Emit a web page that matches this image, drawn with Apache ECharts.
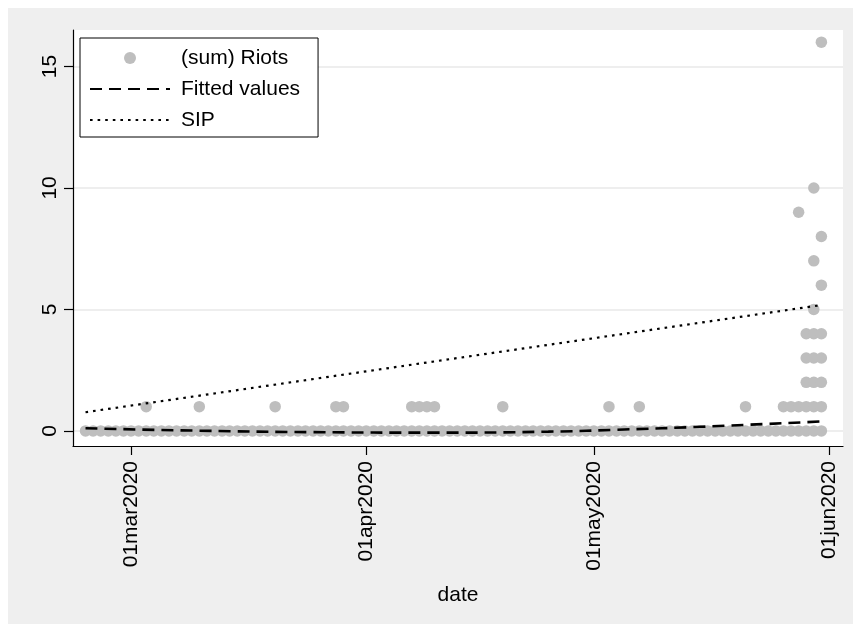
<!DOCTYPE html>
<html>
<head>
<meta charset="utf-8">
<script src="https://cdn.jsdelivr.net/npm/echarts@6/dist/echarts.min.js"></script>
<style>
  html, body { margin: 0; padding: 0; background: #ffffff; width: 853px; height: 624px; overflow: hidden; }
  #chart { position: absolute; left: 8px; top: 8px; width: 845px; height: 616px; }
</style>
</head>
<body>
<div id="chart"></div>
<script>
// Days on which at least one unit reported zero riots
const zeroDays = [
  '2020-02-24','2020-02-25','2020-02-26','2020-02-27','2020-02-28','2020-02-29',
  '2020-03-01','2020-03-02','2020-03-03','2020-03-04','2020-03-05','2020-03-06','2020-03-07',
  '2020-03-08','2020-03-09','2020-03-10','2020-03-11','2020-03-12','2020-03-13','2020-03-14',
  '2020-03-15','2020-03-16','2020-03-17','2020-03-18','2020-03-19','2020-03-20','2020-03-21',
  '2020-03-22','2020-03-23','2020-03-24','2020-03-25','2020-03-26','2020-03-27','2020-03-28',
  '2020-03-29','2020-03-30','2020-03-31',
  '2020-04-01','2020-04-02','2020-04-03','2020-04-04','2020-04-05','2020-04-06','2020-04-07',
  '2020-04-08','2020-04-09','2020-04-10','2020-04-11','2020-04-12','2020-04-13','2020-04-14',
  '2020-04-15','2020-04-16','2020-04-17','2020-04-18','2020-04-19','2020-04-20','2020-04-21',
  '2020-04-22','2020-04-23','2020-04-24','2020-04-25','2020-04-26','2020-04-27','2020-04-28',
  '2020-04-29','2020-04-30',
  '2020-05-01','2020-05-02','2020-05-03','2020-05-04','2020-05-05','2020-05-06','2020-05-07',
  '2020-05-08','2020-05-09','2020-05-10','2020-05-11','2020-05-12','2020-05-13','2020-05-14',
  '2020-05-15','2020-05-16','2020-05-17','2020-05-18','2020-05-19','2020-05-20','2020-05-21',
  '2020-05-22','2020-05-23','2020-05-24','2020-05-25','2020-05-26','2020-05-27','2020-05-28',
  '2020-05-29','2020-05-30','2020-05-31'
];

// Non-zero (sum) riot observations: date and count
const eventDays = [
  '2020-03-03','2020-03-10','2020-03-20','2020-03-28','2020-03-29',
  '2020-04-07','2020-04-08','2020-04-09','2020-04-10','2020-04-19',
  '2020-05-03','2020-05-07','2020-05-21',
  '2020-05-26','2020-05-27',
  '2020-05-28','2020-05-28',
  '2020-05-29','2020-05-29','2020-05-29','2020-05-29',
  '2020-05-30','2020-05-30','2020-05-30','2020-05-30','2020-05-30','2020-05-30','2020-05-30',
  '2020-05-31','2020-05-31','2020-05-31','2020-05-31','2020-05-31','2020-05-31','2020-05-31'
];
const eventCounts = [
  1, 1, 1, 1, 1,
  1, 1, 1, 1, 1,
  1, 1, 1,
  1, 1,
  1, 9,
  1, 2, 3, 4,
  1, 2, 3, 4, 5, 7, 10,
  1, 2, 3, 4, 6, 8, 16
];

// Fitted values curve
const fitDays = ['2020-02-24','2020-03-10','2020-03-25','2020-04-10','2020-04-25','2020-05-05','2020-05-15','2020-05-31'];
const fitValues = [0.11, 0.01, -0.05, -0.07, -0.03, 0.06, 0.17, 0.39];

// SIP line
const sipDays = ['2020-02-24','2020-05-31'];
const sipValues = [0.77, 5.18];

// Axis ticks
const xTickDays = ['2020-03-01','2020-04-01','2020-05-01','2020-06-01'];
const yTicks = [0, 5, 10, 15];

const DAY = 86400000;
const MONTHS = ['jan','feb','mar','apr','may','jun','jul','aug','sep','oct','nov','dec'];
const toTime = s => { const [y, m, d] = s.split('-').map(Number); return Date.UTC(y, m - 1, d); };
const fmtDate = v => {
  const d = new Date(v);
  return String(d.getUTCDate()).padStart(2, '0') + MONTHS[d.getUTCMonth()] + d.getUTCFullYear();
};

const FONT = "'Liberation Sans', Arial, sans-serif";
const riotPoints = zeroDays.map(s => [toTime(s), 0])
  .concat(eventDays.map((s, i) => [toTime(s), eventCounts[i]]));
const fitPoints = fitDays.map((s, i) => [toTime(s), fitValues[i]]);
const sipPoints = sipDays.map((s, i) => [toTime(s), sipValues[i]]);
const xTicks = xTickDays.map(toTime);

// Line keys in the legend show only the stroke, no marker
const hiddenMarker = { opacity: 0, color: 'rgba(0,0,0,0)' };

const chart = echarts.init(document.getElementById('chart'), null, { renderer: 'canvas' });
chart.setOption({
  animation: false,
  backgroundColor: '#efefef',
  textStyle: { fontFamily: FONT },
  grid: {
    left: 65, right: 10, top: 22, bottom: 178,
    show: true, backgroundColor: '#ffffff', borderWidth: 0
  },
  legend: {
    orient: 'vertical',
    left: 72, top: 30,
    padding: [9, 18, 6, 9],
    itemGap: 9,
    itemWidth: 80,
    itemHeight: 12,
    backgroundColor: '#ffffff',
    borderColor: '#000000',
    borderWidth: 1,
    borderRadius: 0,
    textStyle: { fontFamily: FONT, fontSize: 21, color: '#000', lineHeight: 22, padding: [0, 0, 0, 6] },
    data: [
      { name: '(sum) Riots' },
      { name: 'Fitted values', itemStyle: hiddenMarker },
      { name: 'SIP', itemStyle: hiddenMarker }
    ]
  },
  xAxis: {
    type: 'value',
    min: toTime('2020-03-01') - 7.65 * DAY,
    max: toTime('2020-06-01') + 1.85 * DAY,
    name: 'date',
    nameLocation: 'middle',
    nameGap: 139,
    nameTextStyle: { fontFamily: FONT, fontSize: 21, color: '#000' },
    axisLine: { show: true, onZero: false, lineStyle: { color: '#000', width: 1.2 } },
    axisTick: { show: true, length: 9, customValues: xTicks, lineStyle: { color: '#000', width: 1.2 } },
    axisLabel: {
      rotate: 90, margin: 15, fontFamily: FONT, fontSize: 21, color: '#000',
      customValues: xTicks, formatter: fmtDate, showMinLabel: true, showMaxLabel: true
    },
    splitLine: { show: false }
  },
  yAxis: {
    type: 'value',
    min: -0.62,
    max: 16.5,
    axisLine: { show: true, onZero: false, lineStyle: { color: '#000', width: 1.2 } },
    axisTick: { show: true, length: 9, customValues: yTicks, lineStyle: { color: '#000', width: 1.2 } },
    axisLabel: {
      rotate: 90, margin: 12, fontFamily: FONT, fontSize: 21, color: '#000',
      customValues: yTicks
    },
    splitLine: { show: true, lineStyle: { color: '#e8e8e8', width: 1.5 } }
  },
  series: [
    {
      name: '(sum) Riots',
      type: 'scatter',
      data: riotPoints,
      symbol: 'circle',
      symbolSize: 11.5,
      itemStyle: { color: '#bebebe', opacity: 1 }
    },
    {
      name: 'Fitted values',
      type: 'line',
      data: fitPoints,
      smooth: 0.5,
      symbol: 'none',
      itemStyle: { color: 'rgba(0,0,0,0)' },
      lineStyle: { color: '#000', width: 2.6, type: [12, 7] }
    },
    {
      name: 'SIP',
      type: 'line',
      data: sipPoints,
      symbol: 'none',
      itemStyle: { color: 'rgba(0,0,0,0)' },
      lineStyle: { color: '#000', width: 2.2, type: [2.6, 5] }
    }
  ]
});
</script>
</body>
</html>
